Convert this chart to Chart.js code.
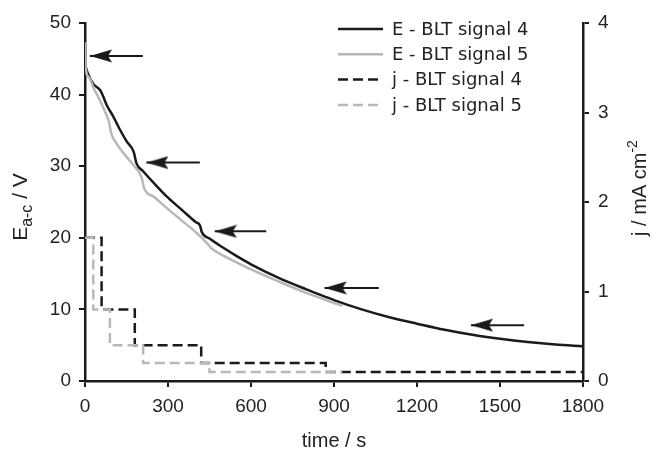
<!DOCTYPE html>
<html>
<head>
<meta charset="utf-8">
<script src="https://cdn.jsdelivr.net/npm/chart.js@4.4.1/dist/chart.umd.min.js"></script>
<style>
  html, body { margin: 0; padding: 0; background: #fff; }
  #wrap { width: 652px; height: 451px; }
</style>
</head>
<body>
<div id="wrap"><canvas id="chart" width="652" height="451"></canvas></div>
<script>
// axis ticks
const timeTicks = [0, 300, 600, 900, 1200, 1500, 1800];
const eTicks = [0, 10, 20, 30, 40, 50];
const jTicks = [0, 1, 2, 3, 4];

// E - BLT signal 4 (V)
const eTime4 = [0, 10, 30, 55, 64, 80, 100, 125, 150, 176, 186, 210, 250, 300, 350, 400, 416, 422, 450, 500, 550, 600, 700, 800, 880, 900, 1000, 1100, 1200, 1300, 1400, 1500, 1600, 1700, 1800];
const eVolt4 = [44.2, 43.0, 41.5, 40.6, 39.9, 38.4, 37.1, 35.2, 33.5, 32.0, 30.4, 29.3, 27.6, 25.6, 23.9, 22.2, 21.7, 20.8, 19.9, 18.6, 17.4, 16.3, 14.4, 12.8, 11.6, 11.3, 10.0, 8.9, 8.0, 7.15, 6.45, 5.9, 5.45, 5.1, 4.85];

// E - BLT signal 5 (V)
const eTime5 = [0, 1, 15, 30, 54, 83, 88, 94, 114, 150, 174, 205, 213, 250, 300, 350, 400, 440, 455, 500, 600, 700, 800, 900, 930];
const eVolt5 = [47.3, 44.2, 42.4, 41.0, 39.2, 36.6, 36.0, 34.7, 33.2, 31.3, 30.2, 28.4, 27.0, 25.7, 24.0, 22.4, 20.8, 19.3, 18.6, 17.5, 15.6, 13.9, 12.3, 10.9, 10.5];

// j - BLT signal 4 / 5 (mA cm-2), step levels
const jTime4 = [0, 60, 180, 420, 870, 1800];
const jCurr4 = [1.6, 0.8, 0.4, 0.2, 0.1, 0.1];
const jTime5 = [0, 30, 90, 210, 450, 930];
const jCurr5 = [1.6, 0.8, 0.4, 0.2, 0.1, 0.1];

// arrows (tip time, tail time, E level)
const arrowTip = [18, 222, 469, 866, 1395];
const arrowTail = [209, 415, 655, 1062, 1587];
const arrowLevel = [45.4, 30.5, 20.9, 13.0, 7.8];

const ink = '#1a1a1a';
const grey = '#b8b8b8';
const textCol = '#222';

function pts(xs, ys) {
    return xs.map((x, i) => ({ x: x, y: ys[i] }));
}

// arrow head image, tip sits at the centre of the canvas
function makeArrowHead() {
    const c = document.createElement('canvas');
    c.width = 44; c.height = 14;
    const g = c.getContext('2d');
    g.fillStyle = ink;
    g.beginPath();
    g.moveTo(22, 7);
    g.lineTo(44, 0.5);
    g.lineTo(40, 7);
    g.lineTo(44, 13.5);
    g.closePath();
    g.fill();
    return c;
}
const arrowHead = makeArrowHead();

const datasets = [{
    label: 'E - BLT signal 4',
    data: pts(eTime4, eVolt4),
    yAxisID: 'y',
    borderColor: ink,
    borderWidth: 2.5,
    cubicInterpolationMode: 'monotone',
    pointRadius: 0,
    order: 2
}, {
    label: 'E - BLT signal 5',
    data: pts(eTime5, eVolt5),
    yAxisID: 'y',
    borderColor: grey,
    borderWidth: 2.5,
    cubicInterpolationMode: 'monotone',
    pointRadius: 0,
    order: 1
}, {
    label: 'j - BLT signal 4',
    data: pts(jTime4, jCurr4),
    yAxisID: 'y1',
    stepped: 'before',
    borderColor: ink,
    borderWidth: 2.5,
    borderDash: [10, 5],
    pointRadius: 0,
    order: 4
}, {
    label: 'j - BLT signal 5',
    data: pts(jTime5, jCurr5),
    yAxisID: 'y1',
    stepped: 'before',
    borderColor: grey,
    borderWidth: 2.5,
    borderDash: [10, 5],
    pointRadius: 0,
    order: 3
}];

// one dataset per arrow, head drawn as point style on the first point
arrowTip.forEach((t, i) => {
    datasets.push({
        data: [{ x: t, y: arrowLevel[i] }, { x: arrowTail[i], y: arrowLevel[i] }],
        yAxisID: 'y',
        borderColor: ink,
        borderWidth: 2,
        pointStyle: arrowHead,
        pointRadius: ctx => ctx.dataIndex === 0 ? 11 : 0,
        order: 0
    });
});

// draws text parts (normal / sub / superscript) one after the other
function richText(ctx, parts, x, y, angle) {
    ctx.save();
    ctx.translate(x, y);
    ctx.rotate(angle);
    let total = 0;
    parts.forEach(p => {
        ctx.font = p.size + 'px "Liberation Sans", Arial, sans-serif';
        p.w = ctx.measureText(p.text).width;
        total += p.w;
    });
    let cx = -total / 2;
    ctx.fillStyle = textCol;
    ctx.textBaseline = 'alphabetic';
    ctx.textAlign = 'left';
    parts.forEach(p => {
        ctx.font = p.size + 'px "Liberation Sans", Arial, sans-serif';
        ctx.fillText(p.text, cx, p.dy || 0);
        cx += p.w;
    });
    ctx.restore();
}

const decorPlugin = {
    id: 'decor',
    afterDraw(chart) {
        const ctx = chart.ctx;
        // legend, top right inside the plot
        const items = chart.data.datasets.filter(d => d.label);
        items.forEach((d, i) => {
            const y = 29 + i * 25.3;
            ctx.save();
            ctx.strokeStyle = d.borderColor;
            ctx.lineWidth = d.borderWidth;
            ctx.setLineDash(d.borderDash || []);
            ctx.beginPath();
            ctx.moveTo(338, y);
            ctx.lineTo(383, y);
            ctx.stroke();
            ctx.setLineDash([]);
            ctx.fillStyle = textCol;
            ctx.font = '18px "DejaVu Sans", Verdana, sans-serif';
            ctx.textBaseline = 'middle';
            ctx.textAlign = 'left';
            ctx.fillText(d.label, 392, y + 1);
            ctx.restore();
        });

        // axis titles
        richText(ctx, [
            { text: 'E', size: 21 },
            { text: 'a-c', size: 16, dy: 5 },
            { text: ' / V', size: 21 }
        ], 27, 207, -Math.PI / 2);
        richText(ctx, [
            { text: 'j / mA cm', size: 20 },
            { text: '-2', size: 14, dy: -9 }
        ], 646, 188, -Math.PI / 2);
        richText(ctx, [{ text: 'time / s', size: 20 }], 334, 447, 0);
    }
};

const tickFont = { family: '"Liberation Sans", Arial, sans-serif', size: 19 };

function axisLook(values) {
    return {
        min: values[0],
        max: values[values.length - 1],
        afterBuildTicks: scale => { scale.ticks = values.map(v => ({ value: v })); },
        grid: { drawOnChartArea: false, drawTicks: true, tickLength: 6, color: ink, lineWidth: 2 },
        border: { display: true, color: ink, width: 2.5 },
        ticks: { color: textCol, font: tickFont, callback: v => String(v) }
    };
}

const xAxis = axisLook(timeTicks);
xAxis.type = 'linear';
xAxis.position = 'bottom';
xAxis.ticks.padding = 8;
xAxis.afterFit = scale => { scale.height = 70; };

const yAxis = axisLook(eTicks);
yAxis.position = 'left';
yAxis.ticks.padding = 8;
yAxis.afterFit = scale => { scale.width = 85; };

const y1Axis = axisLook(jTicks);
y1Axis.position = 'right';
y1Axis.ticks.padding = 9;
y1Axis.afterFit = scale => { scale.width = 69; };

new Chart(document.getElementById('chart'), {
    type: 'line',
    data: { datasets: datasets },
    options: {
        responsive: false,
        animation: false,
        events: [],
        layout: { padding: { top: 23, left: 0, right: 0, bottom: 0 } },
        elements: { line: { tension: 0 } },
        scales: { x: xAxis, y: yAxis, y1: y1Axis },
        plugins: {
            legend: { display: false },
            tooltip: { enabled: false }
        }
    },
    plugins: [decorPlugin]
});
</script>
</body>
</html>
